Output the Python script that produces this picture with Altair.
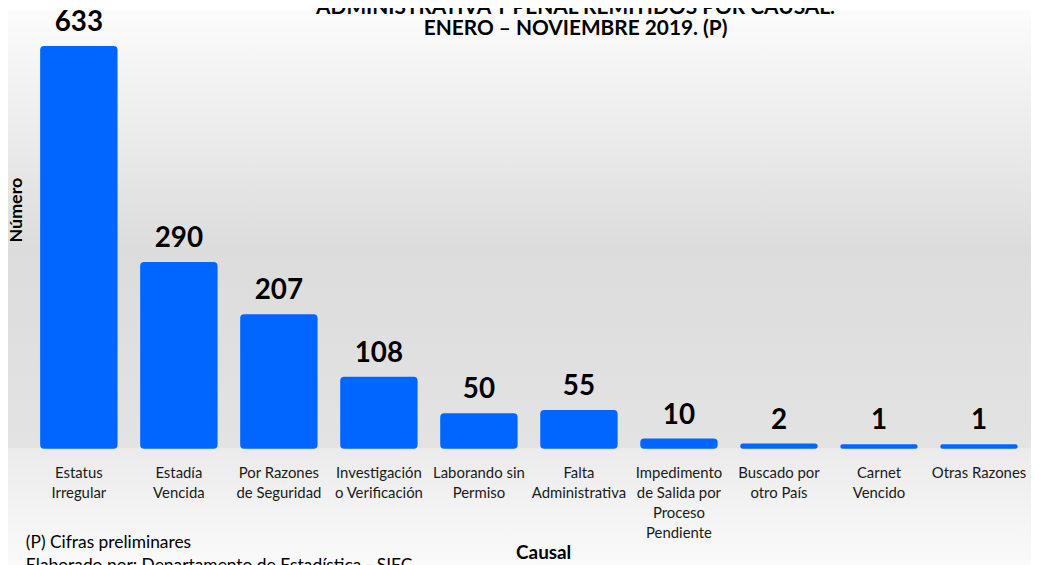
import altair as alt
import pandas as pd

categories = [
    "Estatus\nIrregular",
    "Estadía\nVencida",
    "Por Razones\nde Seguridad",
    "Investigación\no Verificación",
    "Laborando sin\nPermiso",
    "Falta\nAdministrativa",
    "Impedimento\nde Salida por\nProceso\nPendiente",
    "Buscado por\notro País",
    "Carnet\nVencido",
    "Otras Razones",
]
values = [633, 290, 207, 108, 50, 55, 10, 2, 1, 1]

title_line1 = "ADMINISTRATIVA Y PENAL REMITIDOS POR CAUSAL."
title_line2 = "ENERO – NOVIEMBRE 2019. (P)"
footnote1 = "(P) Cifras  preliminares"
footnote2 = "Elaborado por: Departamento de Estadística - SIEC"

df = pd.DataFrame({"causal": categories, "numero": values})
one = pd.DataFrame({"k": [0]})

W, H = 1008, 402
FONT = "Lato"
BLUE = "#0066FF"

bg_top = alt.Gradient(
    gradient="linear", x1=0, x2=0, y1=0, y2=1,
    stops=[
        alt.GradientStop(offset=0, color="#fcfcfc"),
        alt.GradientStop(offset=0.08, color="#f7f7f7"),
        alt.GradientStop(offset=0.55, color="#dcdcdc"),
        alt.GradientStop(offset=1, color="#e3e3e3"),
    ],
)
bg_bot = alt.Gradient(
    gradient="linear", x1=0, x2=0, y1=0, y2=1,
    stops=[
        alt.GradientStop(offset=0, color="#ebebeb"),
        alt.GradientStop(offset=1, color="#fafafa"),
    ],
)

bg1 = alt.Chart(one).mark_rect(fill=bg_top).encode(
    x=alt.value(-21), x2=alt.value(W + 2), y=alt.value(-38), y2=alt.value(H + 2)
)
bg2 = alt.Chart(one).mark_rect(fill=bg_bot).encode(
    x=alt.value(-21), x2=alt.value(W + 2), y=alt.value(H + 2), y2=alt.value(H + 120)
)

base = alt.Chart(df)
xenc = alt.X(
    "causal:N", sort=None,
    scale=alt.Scale(paddingInner=0.266, paddingOuter=0.133),
    axis=alt.Axis(
        title="Causal", titleFont=FONT, titleFontSize=19, titleFontWeight="bold",
        titleColor="#000000", titleX=518.4, titleY=107, titleBaseline="middle",
        labelExpr="split(datum.label, '\\n')", labelAngle=0, labelFont=FONT,
        labelFontSize=15, labelColor="#1a1a1a", labelLineHeight=20,
        labelPadding=19, ticks=False, domain=False, labelLimit=200, zindex=2,
    ),
)
yenc = alt.Y(
    "numero:Q",
    scale=alt.Scale(domain=[0, 633], nice=False),
    axis=alt.Axis(
        title="Número", titleFont=FONT, titleFontSize=18, titleFontWeight="bold",
        titleColor="#000000", labels=False, ticks=False, domain=False, grid=False,
        titleX=-12.6, titleY=163, titleBaseline="middle", titleAngle=-90, zindex=2,
    ),
)

bars = base.mark_bar(
    color=BLUE, stroke=BLUE, strokeWidth=4, cornerRadius=2
).encode(x=xenc, y=yenc)

labels = base.mark_text(
    font=FONT, fontSize=28, fontWeight="bold", color="#000000", dy=-17, baseline="alphabetic"
).encode(
    x=alt.X("causal:N", sort=None),
    y=alt.Y("numero:Q"),
    text="numero:Q",
)


def txt(s, x, y, size, weight="normal", align="center", baseline="alphabetic"):
    return alt.Chart(one).mark_text(
        text=s, font=FONT, fontSize=size, fontWeight=weight, color="#000000",
        align=align, baseline=baseline,
    ).encode(x=alt.value(x), y=alt.value(y))


t1 = txt(title_line1, 551, -34, 21, "bold")
t2 = txt(title_line2, 551, -13, 21, "bold")
f1 = txt(footnote1, -3, 499, 17.5, align="left", baseline="middle")
f2 = txt(footnote2, -3, 522, 17.5, align="left", baseline="middle")

chart = alt.layer(bg1, bg2, bars, labels, t1, t2, f1, f2).properties(
    width=W, height=H,
    autosize=alt.AutoSizeParams(type="none"),
    padding={"left": 21, "top": 38, "right": 2, "bottom": 117},
    background="#ffffff",
).configure_view(stroke=None).configure_axis(grid=False)

chart.save("out.html", embed_options={"renderer": "svg", "actions": False})
